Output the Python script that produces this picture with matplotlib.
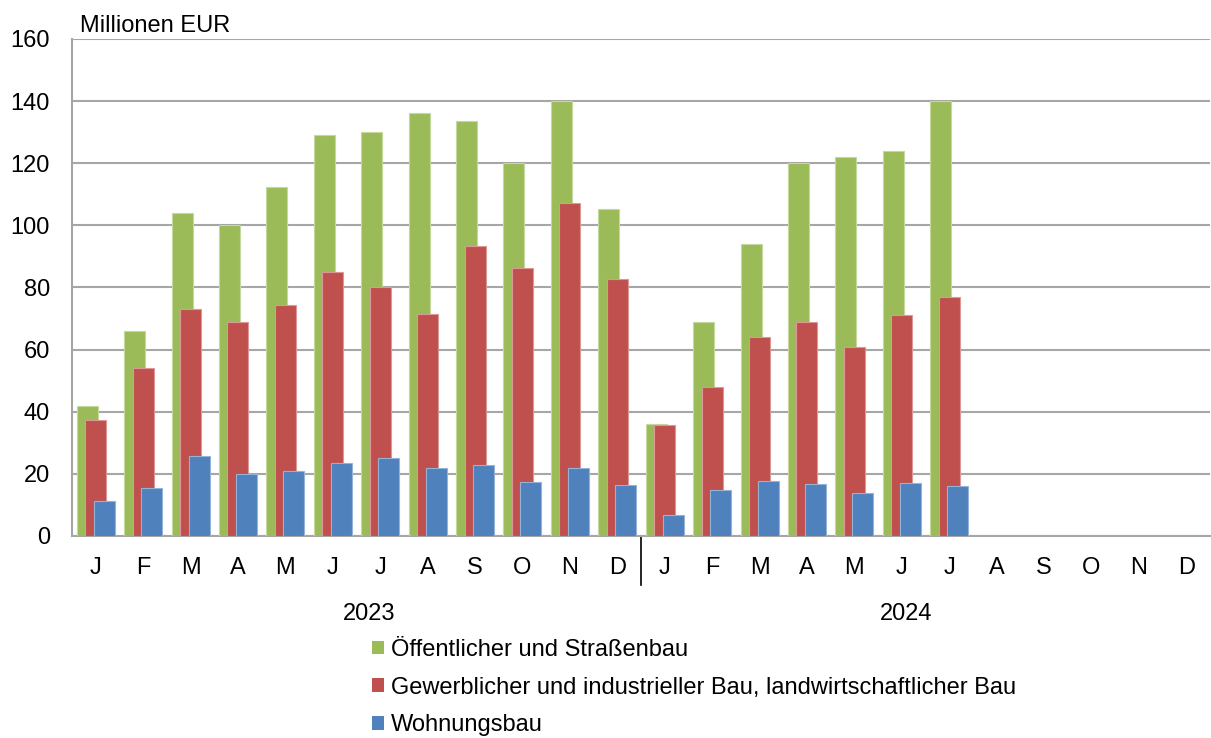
import numpy as np
import matplotlib.pyplot as plt
import matplotlib.transforms as mtransforms
from matplotlib.patches import Patch

plt.rcParams['font.family'] = ['Liberation Sans', 'DejaVu Sans']

# data (Millionen EUR), Jan 2023 .. Jul 2024
months = ['J', 'F', 'M', 'A', 'M', 'J', 'J', 'A', 'S', 'O', 'N', 'D'] * 2
years = ['2023', '2024']
oeffentlich = [42, 66, 104, 100, 112.5, 129, 130, 136.3, 133.5, 120, 140, 105.3,
               36, 69, 94, 120, 122, 123.8, 140]
gewerblich = [37.3, 54, 73, 69, 74.5, 85, 80, 71.5, 93.5, 86.3, 107.2, 82.8,
              35.8, 48, 64, 69, 61, 71, 77]
wohnungsbau = [11.4, 15.4, 25.9, 20.1, 21, 23.6, 25, 22, 23, 17.5, 22, 16.5,
               6.8, 14.8, 17.8, 16.8, 13.7, 17, 16]
labels = ['Öffentlicher und Straßenbau',
          'Gewerblicher und industrieller Bau, landwirtschaftlicher Bau',
          'Wohnungsbau']
colors = ['#9BBB59', '#C0504D', '#4F81BD']
edges = ['#C5D89F', '#DC9896', '#95B3D7']

fs = 17
fig = plt.figure(figsize=(12.11, 7.38), dpi=100)
ax = fig.add_axes([72/1211, 1-536/738, 1138/1211, 497/738])

w = 0.443
off = 0.18
for vals, dx, c, ec in zip([oeffentlich, gewerblich, wohnungsbau], [-off, 0, off], colors, edges):
    x = np.arange(len(vals)) + dx
    ax.bar(x, vals, width=w, color=c, edgecolor=ec, linewidth=0.8, zorder=3)

ax.set_xlim(-0.5, len(months) - 0.5)
ax.set_ylim(0, 160)
ax.set_yticks(np.arange(0, 161, 20))
ax.yaxis.grid(True, color='#A6A6A6', linewidth=1.5, zorder=0)
ax.set_xticks(np.arange(len(months)))
ax.set_xticklabels(months, fontsize=fs)
ax.tick_params(axis='x', length=0, pad=15)
ax.tick_params(axis='y', length=0, pad=16, labelsize=fs)
for s in ['top', 'right']:
    ax.spines[s].set_visible(False)
for s in ['left', 'bottom']:
    ax.spines[s].set_color('#A6A6A6')
    ax.spines[s].set_linewidth(1.5)

# year separator + year labels
trans = mtransforms.blended_transform_factory(ax.transData, ax.transAxes)
ax.plot([11.5, 11.5], [0, -49/497], color='black', linewidth=1.2, transform=trans, clip_on=False)
ax.text(5.77, -78/497, years[0], transform=trans, ha='center', va='center', fontsize=fs)
ax.text(17.1, -78/497, years[1], transform=trans, ha='center', va='center', fontsize=fs)

ax.text(8/1138, (536-32)/497, 'Millionen EUR', transform=ax.transAxes, ha='left', va='baseline', fontsize=fs)

handles = [Patch(facecolor=c, edgecolor='none') for c in colors]
fig.legend(handles, labels, loc='upper left', bbox_to_anchor=(372/1211, 1-639/738),
           frameon=False, fontsize=fs, handlelength=0.5, handleheight=0.5,
           handletextpad=0.3, labelspacing=0.66, borderpad=0, borderaxespad=0)

fig.savefig('out.png', dpi=100)
